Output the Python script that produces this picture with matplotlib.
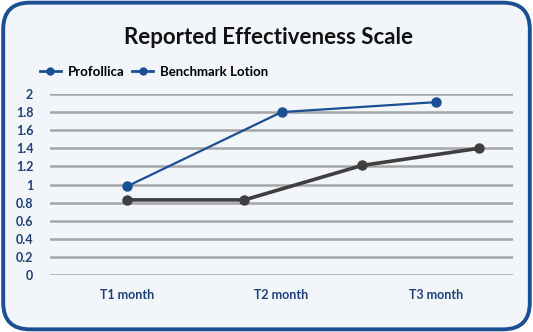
import numpy as np
import matplotlib.pyplot as plt
from matplotlib.patches import FancyBboxPatch
from matplotlib.lines import Line2D

plt.rcParams['font.family'] = ['Lato', 'DejaVu Sans']

# 数据
categories = ['T1 month', 'T2 month', 'T3 month']
profollica_x = [0.5, 1.5, 2.5]
profollica = [0.98, 1.8, 1.91]
benchmark_x = [0.5, 1.26, 2.02, 2.78]
benchmark = [0.83, 0.83, 1.21, 1.4]
yticks = [0, 0.2, 0.4, 0.6, 0.8, 1, 1.2, 1.4, 1.6, 1.8, 2]
ytick_labels = ['0', '0.2', '0.4', '0.6', '0.8', '1', '1.2', '1.4', '1.6', '1.8', '2']

blue = '#1b4f93'
gray = '#3f3f3f'
bg = '#f2f6fa'
label_col = '#1f3f78'

fig = plt.figure(figsize=(5.33, 3.32), dpi=100)
fig.patch.set_facecolor('white')

# 圆角边框
box = FancyBboxPatch((0.006, 0.008), 0.988, 0.984,
                     boxstyle='round,pad=0,rounding_size=0.05',
                     transform=fig.transFigure, facecolor=bg,
                     edgecolor=blue, linewidth=2.8, mutation_aspect=533 / 332,
                     zorder=-10)
fig.patches.append(box)

ax = fig.add_axes([50 / 533, 1 - 275 / 332, 463 / 533, 181 / 332])
ax.set_facecolor('none')
ax.set_xlim(0, 3)
ax.set_ylim(0, 2)

for y in yticks:
    ax.axhline(y, color='#a6a6a6', linewidth=1.8, zorder=1)

ax.plot(profollica_x, profollica, color=blue, linewidth=1.6, marker='o',
        markersize=6.5, zorder=3)
ax.plot(benchmark_x, benchmark, color=gray, linewidth=2.6, marker='o',
        markersize=6.5, zorder=3)

ax.set_yticks(yticks)
ax.set_yticklabels(ytick_labels)
ax.set_xticks([0.5, 1.5, 2.5])
ax.set_xticklabels(categories)
ax.tick_params(length=0, labelsize=9, labelcolor=label_col)
ax.tick_params(axis='x', pad=10)
ax.tick_params(axis='y', pad=12)
for t in ax.get_xticklabels() + ax.get_yticklabels():
    t.set_fontweight('bold')
for s in ax.spines.values():
    s.set_visible(False)

fig.text(0.503, 1 - 37 / 332, 'Reported Effectiveness Scale', ha='center',
         va='center', fontsize=16, fontweight='bold', color='#111111')

handles = [Line2D([], [], color=blue, linewidth=2, marker='o', markersize=5),
           Line2D([], [], color=blue, linewidth=2, marker='o', markersize=5)]
fig.legend(handles, ['Profollica', 'Benchmark Lotion'], loc='center left',
           bbox_to_anchor=(28 / 533, 1 - 72 / 332), ncol=2, frameon=False,
           prop={'size': 9.5, 'weight': 'bold'}, handlelength=1.6,
           handletextpad=0.5, columnspacing=0.6)

fig.savefig('out.png', dpi=100, facecolor='white')
